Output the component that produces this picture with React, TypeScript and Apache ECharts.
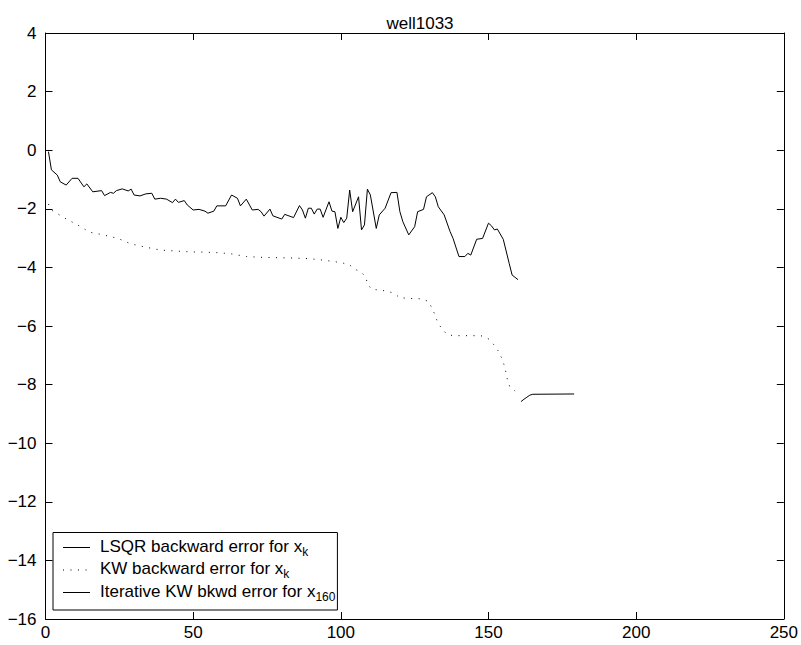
import React, { useEffect, useRef } from "react";
import * as echarts from "echarts";

const chartTitle = "well1033";

const lsqrIter = [1, 2, 4, 5, 7, 9, 11, 13, 14, 16, 19, 20, 22, 23, 24, 26, 28, 29, 30, 32, 34, 36, 37, 39, 41, 43, 44, 45, 47, 48, 50, 52, 54, 55, 57, 58, 61, 63, 65, 66, 68, 70, 72, 73, 74, 76, 77, 80, 81, 84, 86, 87, 88, 89, 90, 91, 92, 93, 94, 96, 97, 98, 99, 100, 101, 102, 103, 104, 106, 107, 108, 109, 110, 112, 113, 115, 117, 119, 120, 121, 123, 125, 126, 128, 129, 131, 132, 133, 135, 137, 138, 140, 142, 143, 144, 146, 148, 150, 151, 152, 153, 155, 157, 158, 160];
const lsqrErr = [-0.05, -0.67, -0.85, -1.08, -1.19, -0.96, -0.96, -1.25, -1.15, -1.42, -1.38, -1.55, -1.44, -1.47, -1.38, -1.32, -1.39, -1.33, -1.53, -1.56, -1.49, -1.47, -1.67, -1.64, -1.67, -1.79, -1.67, -1.78, -1.72, -1.87, -2.04, -2.02, -2.08, -2.15, -2.08, -1.9, -1.9, -1.53, -1.64, -1.9, -1.67, -2.04, -2.02, -2.1, -2.25, -2.01, -2.24, -2.35, -2.19, -2.3, -1.89, -2.04, -2.32, -1.98, -1.98, -2.18, -2.01, -2.01, -2.29, -1.76, -2.08, -2.1, -2.67, -2.29, -2.47, -2.32, -1.36, -2.1, -1.59, -2.72, -2.55, -1.33, -1.53, -2.67, -2.21, -1.98, -1.45, -1.44, -2.1, -2.44, -2.89, -2.61, -2.1, -2.02, -1.59, -1.45, -1.59, -1.93, -2.21, -2.78, -3.01, -3.63, -3.63, -3.52, -3.58, -3.04, -3.01, -2.49, -2.58, -2.72, -2.69, -3.04, -3.86, -4.26, -4.42];

const kwIter = [1, 2, 6, 10.5, 15, 19.5, 24.5, 29, 34, 39, 44, 49, 54, 59, 63, 68, 74, 79, 84, 89, 94, 99, 101, 103, 105, 107, 108.5, 109, 110.5, 113, 115.5, 118, 120, 122, 125, 127, 129.7, 130.8, 131.8, 132.7, 134.1, 135.6, 137.8, 140.6, 143.1, 145.7, 147.9, 150.2, 151.9, 153.3, 154.4, 155.3, 155.9, 156.4, 157.2, 159];
const kwErr = [-1.84, -2.04, -2.29, -2.53, -2.8, -2.89, -3.01, -3.2, -3.31, -3.41, -3.44, -3.47, -3.48, -3.5, -3.54, -3.63, -3.66, -3.67, -3.68, -3.7, -3.75, -3.82, -3.86, -3.92, -4.07, -4.17, -4.34, -4.57, -4.75, -4.77, -4.81, -4.88, -5.04, -5.05, -5.07, -5.07, -5.16, -5.38, -5.6, -5.85, -6.08, -6.25, -6.33, -6.33, -6.33, -6.33, -6.34, -6.45, -6.65, -6.85, -7.08, -7.33, -7.58, -7.82, -8.07, -8.22];

const iterKwIter = [161, 162, 163, 164, 165, 179];
const iterKwErr = [-8.58, -8.5, -8.43, -8.36, -8.33, -8.32];

const seriesNames = ["LSQR backward error for x_k", "KW backward error for x_k", "Iterative KW bkwd error for x_160"];
const legendMain = ["LSQR backward error for x", "KW backward error for x", "Iterative KW bkwd error for x"];
const legendSub = ["k", "k", "160"];

const FONT = "Liberation Sans, Arial, Helvetica, sans-serif";

const zip = (xs: number[], ys: number[]) => xs.map((x, i) => [x, ys[i]]);
const minus = (v: number) => String(v).replace("-", "\u2212");

export default function App() {
  const ref = useRef<HTMLDivElement>(null);
  useEffect(() => {
    if (!ref.current) return;
    const chart = echarts.init(ref.current, null, { renderer: "svg" });
    const axisCommon = {
      type: "value" as const,
      axisLine: { show: true, onZero: false, lineStyle: { color: "#000", width: 1 } },
      axisTick: { show: true, inside: true, length: 7, lineStyle: { color: "#000", width: 1 } },
      splitLine: { show: false },
    };
    chart.setOption({
      animation: false,
      backgroundColor: "#fff",
      title: {
        text: chartTitle,
        left: 415,
        top: 10,
        textAlign: "center",
        textStyle: { fontFamily: FONT, fontSize: 17, fontWeight: "normal", color: "#000" },
      },
      grid: { left: 45.5, right: 15.5, top: 33, bottom: 26, containLabel: false },
      xAxis: [
        {
          ...axisCommon,
          position: "bottom",
          min: 0,
          max: 250,
          interval: 50,
          axisLabel: { color: "#000", fontFamily: FONT, fontSize: 17, margin: 5 },
        },
        {
          ...axisCommon,
          position: "top",
          min: 0,
          max: 250,
          interval: 50,
          axisLabel: { show: false },
        },
      ],
      yAxis: [
        {
          ...axisCommon,
          position: "left",
          min: -16,
          max: 4,
          interval: 2,
          axisLabel: { color: "#000", fontFamily: FONT, fontSize: 17, margin: 9, formatter: minus },
        },
        {
          ...axisCommon,
          position: "right",
          min: -16,
          max: 4,
          interval: 2,
          axisLabel: { show: false },
        },
      ],
      legend: {
        orient: "vertical",
        left: 53,
        top: 532.5,
        backgroundColor: "#fff",
        borderColor: "#000",
        borderWidth: 1,
        padding: [0, 2, 7.5, 9.5],
        itemGap: -2.5,
        itemWidth: 27,
        itemHeight: 14,
        itemStyle: { opacity: 0 },
        lineStyle: { width: 1 },
        data: seriesNames,
        formatter: (name: string) => {
          const i = seriesNames.indexOf(name);
          return `{a|${legendMain[i]}}{s|${legendSub[i]}}`;
        },
        textStyle: {
          fontFamily: FONT,
          color: "#000",
          rich: {
            a: { fontFamily: FONT, fontSize: 17, color: "#000", lineHeight: 20, verticalAlign: "top", padding: [0, 0, 0, 5] },
            s: { fontFamily: FONT, fontSize: 12, color: "#000", lineHeight: 12, verticalAlign: "bottom", padding: [13, 0, 0, 0] },
          },
        },
      },
      series: [
        {
          name: seriesNames[0],
          type: "line",
          data: zip(lsqrIter, lsqrErr),
          symbol: "none",
          lineStyle: { color: "#000", width: 1 },
          itemStyle: { color: "#000" },
        },
        {
          name: seriesNames[1],
          type: "line",
          data: zip(kwIter, kwErr),
          symbol: "none",
          lineStyle: { color: "#000", width: 1, type: [1, 6.5] },
          itemStyle: { color: "#000" },
        },
        {
          name: seriesNames[2],
          type: "line",
          data: zip(iterKwIter, iterKwErr),
          symbol: "none",
          lineStyle: { color: "#000", width: 1 },
          itemStyle: { color: "#000" },
        },
      ],
    });
    return () => chart.dispose();
  }, []);
  return <div ref={ref} style={{ position: "fixed", left: 0, top: 0, width: 801, height: 645 }} />;
}
